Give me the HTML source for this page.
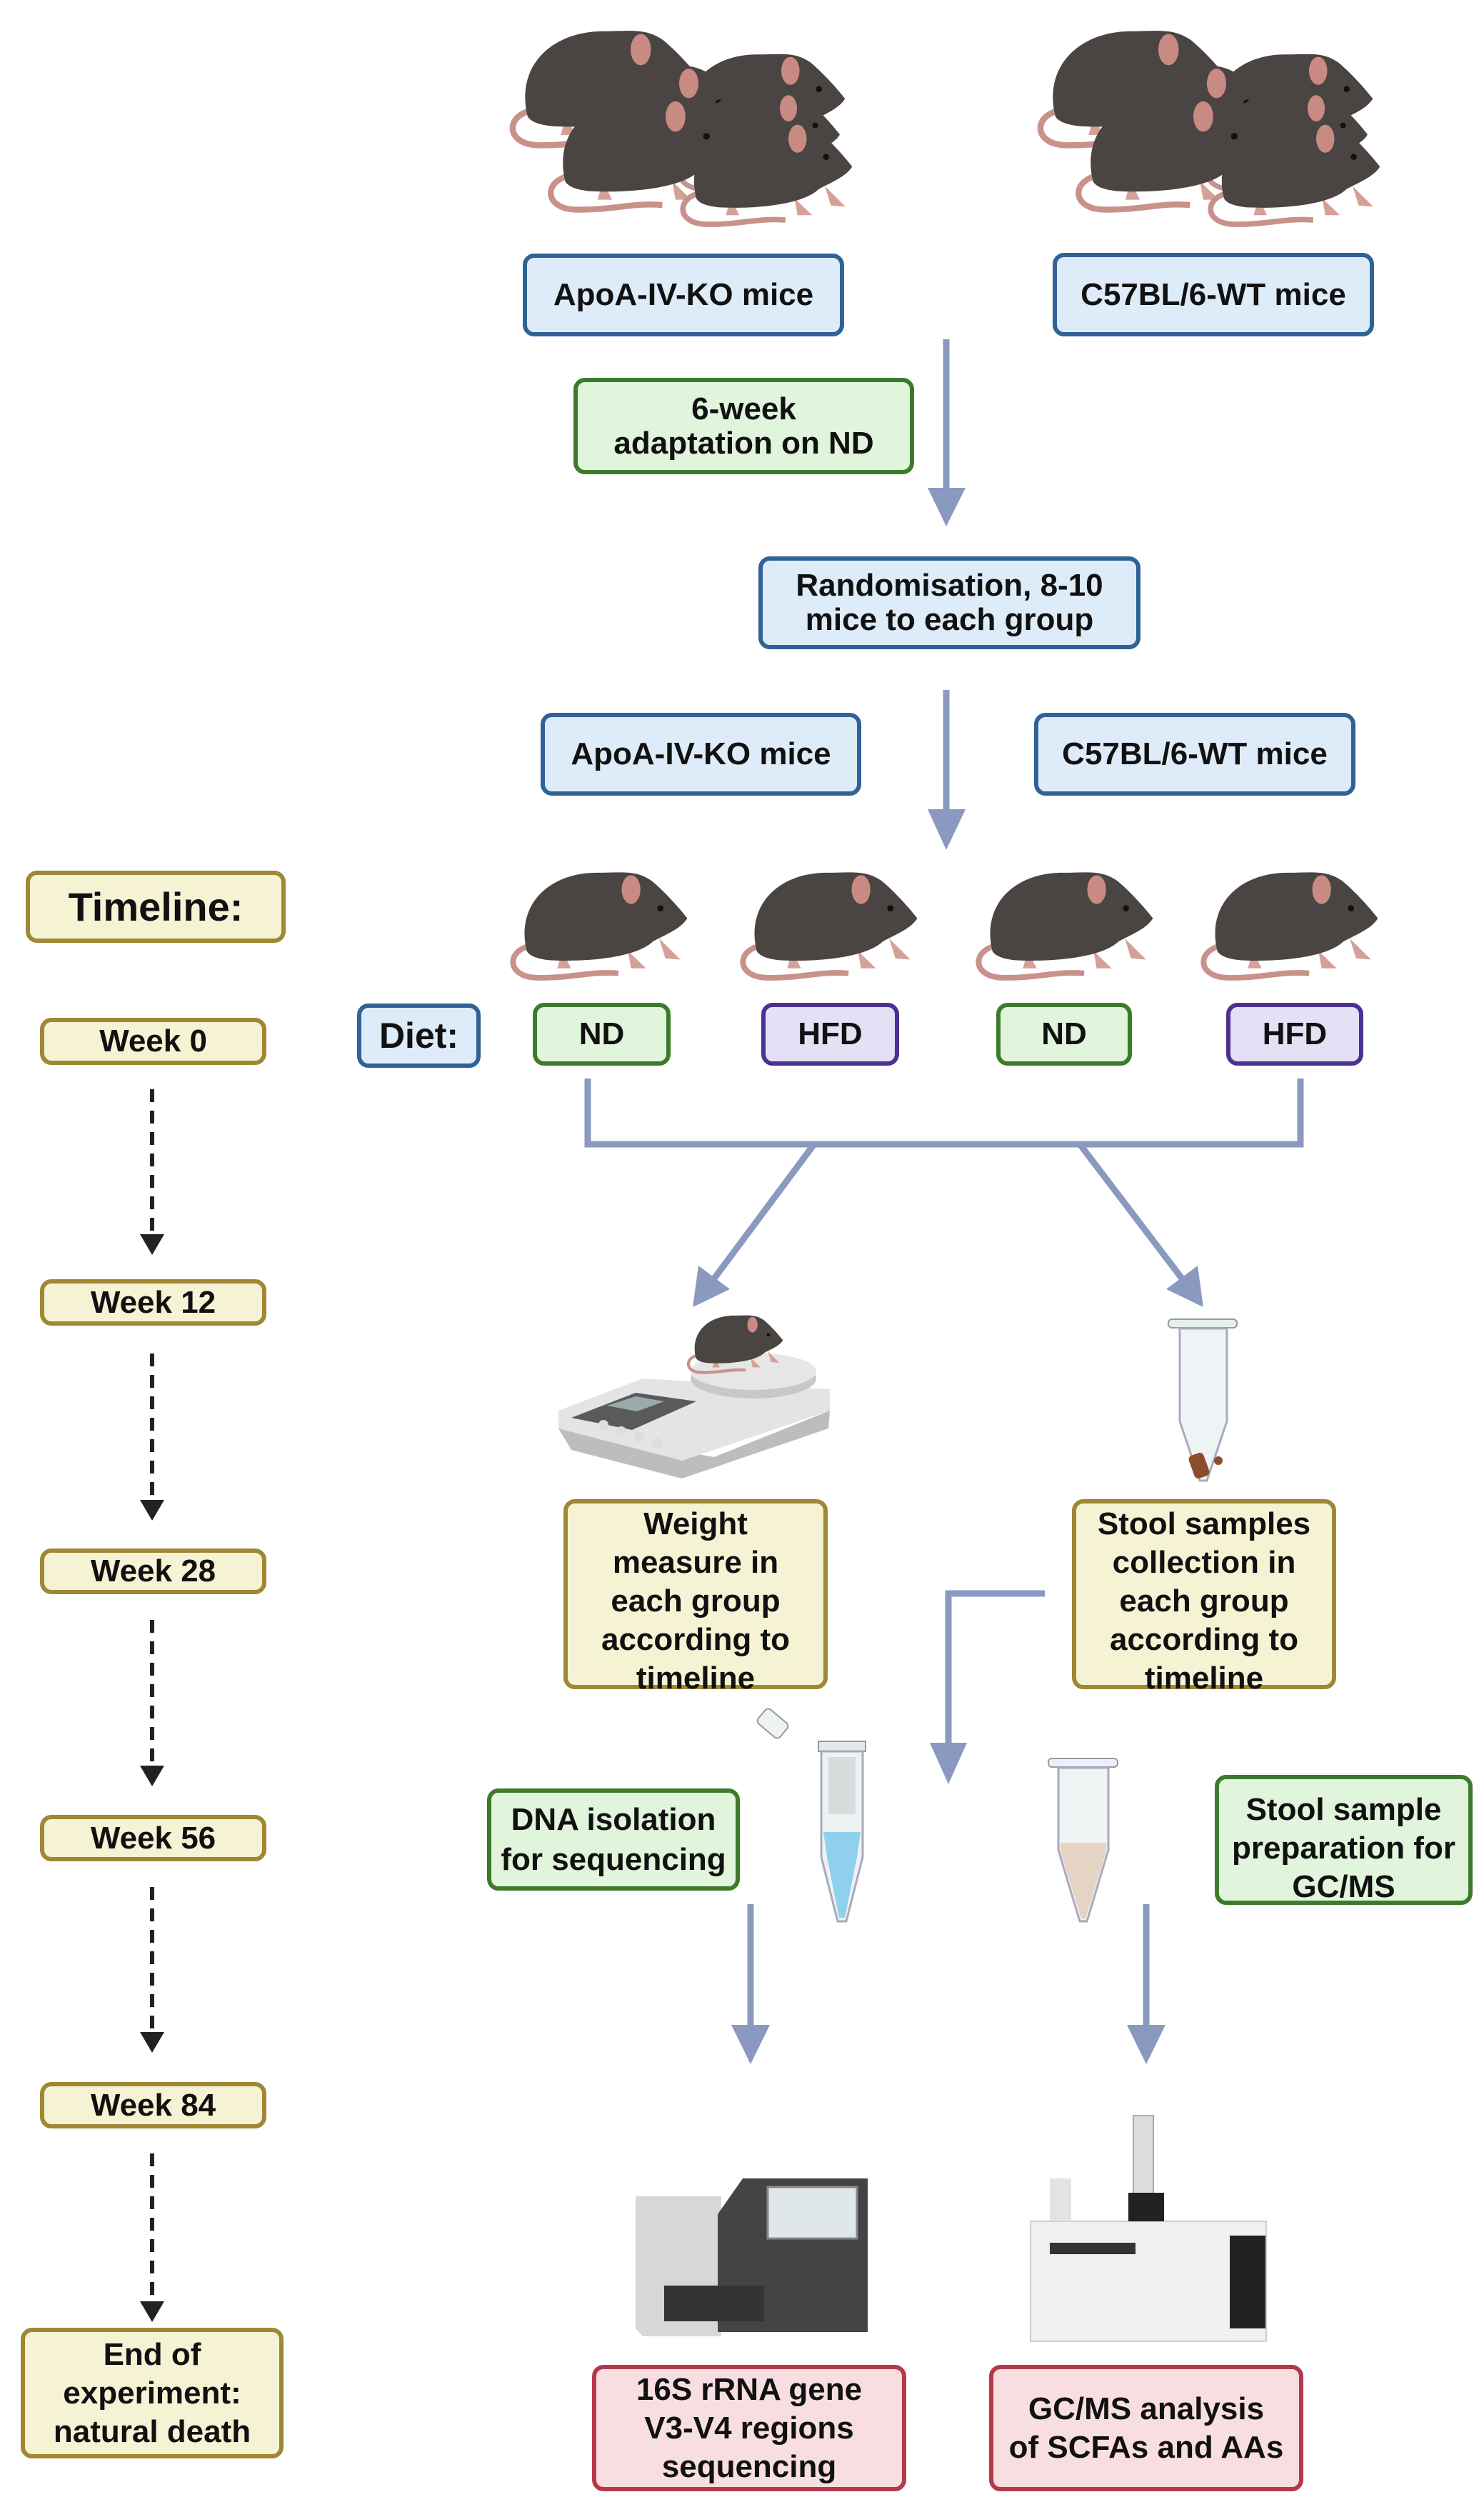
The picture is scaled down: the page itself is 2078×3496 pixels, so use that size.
<!DOCTYPE html>
<html><head><meta charset="utf-8">
<style>
html,body{margin:0;padding:0;background:#fff;}
body{width:2078px;height:3496px;position:relative;overflow:hidden;font-family:"Liberation Sans Narrow","Liberation Sans",sans-serif;}
.b{position:absolute;box-sizing:border-box;border:6px solid;border-radius:16px;display:flex;align-items:center;justify-content:center;text-align:center;font-weight:bold;color:#111;font-size:44px;line-height:48px;}
.bl{background:#deebf8;border-color:#2f6395;}
.gr{background:#e1f4dc;border-color:#3d7b2b;}
.pu{background:#e4e0f6;border-color:#4b3190;}
.ye{background:#f6f3d5;border-color:#9f8833;}
.re{background:#f8dee1;border-color:#b3394b;}
.top{align-items:flex-start;}
svg{position:absolute;left:0;top:0;}
</style></head><body>
<svg width="2078" height="3496" viewBox="0 0 2078 3496">
<defs>
<symbol id="m" viewBox="0 0 300 200">
<path d="M60 140 C5 140 0 192 55 193 C110 194 140 182 185 186" stroke="#c8928a" stroke-width="9" fill="none"/>
<path d="M95 150 l-8 28 l22 0 z M200 150 l5 28 l24 0 z M250 130 l10 32 l24 2 z" fill="#d4a098"/>
<path d="M38 150 C20 75 75 25 150 25 C190 25 212 20 238 38 C262 58 285 85 295 98 C285 115 258 125 240 135 C212 162 130 168 75 165 C55 163 42 158 38 150 Z" fill="#4a4542"/>
<ellipse cx="205" cy="52" rx="15" ry="23" fill="#c98a84"/>
<circle cx="252" cy="82" r="5" fill="#111"/>
</symbol>
</defs>
<!-- top mice groups -->
<g id="grp">
<use href="#m" x="690" y="20" width="310" height="190"/>
<use href="#m" x="920" y="55" width="280" height="170"/>
<use href="#m" x="770" y="70" width="290" height="180"/>
<use href="#m" x="925" y="110" width="270" height="160"/>
<use href="#m" x="745" y="115" width="300" height="185"/>
<use href="#m" x="925" y="150" width="290" height="170"/>
</g>
<use href="#grp" x="739" y="0"/>
<!-- row of 4 mice -->
<use href="#m" x="668" y="1200" width="335" height="175"/>
<use href="#m" x="990" y="1200" width="335" height="175"/>
<use href="#m" x="1320" y="1200" width="335" height="175"/>
<use href="#m" x="1635" y="1200" width="335" height="175"/>
<g fill="#8a99c0" stroke="#8a99c0">
<line x1="1325" y1="475" x2="1325" y2="690" stroke-width="9"/>
<polygon points="1299,683 1352,683 1325,737" stroke="none"/>
<line x1="1325" y1="966" x2="1325" y2="1140" stroke-width="9"/>
<polygon points="1299,1133 1352,1133 1325,1190" stroke="none"/>
<polyline points="823,1510 823,1602 1821,1602 1821,1510" fill="none" stroke-width="9"/>
<line x1="1140" y1="1602" x2="1000" y2="1790" stroke-width="9"/>
<polygon points="970,1830 978,1772 1022,1805" stroke="none"/>
<line x1="1512" y1="1602" x2="1655" y2="1790" stroke-width="9"/>
<polygon points="1685,1830 1633,1805 1677,1772" stroke="none"/>
<polyline points="1463,2231 1328,2231 1328,2450" fill="none" stroke-width="9"/>
<polygon points="1302,2440 1354,2440 1328,2498" stroke="none"/>
<line x1="1051" y1="2666" x2="1051" y2="2840" stroke-width="9"/>
<polygon points="1024,2835 1078,2835 1051,2890" stroke="none"/>
<line x1="1605" y1="2666" x2="1605" y2="2840" stroke-width="9"/>
<polygon points="1578,2835 1632,2835 1605,2890" stroke="none"/>
</g>
<!-- dashed timeline -->
<g stroke="#222" stroke-width="6" stroke-dasharray="18,12" fill="#222">
<line x1="213" y1="1525" x2="213" y2="1728"/>
<line x1="213" y1="1895" x2="213" y2="2100"/>
<line x1="213" y1="2268" x2="213" y2="2472"/>
<line x1="213" y1="2642" x2="213" y2="2845"/>
<line x1="213" y1="3015" x2="213" y2="3222"/>
</g>
<g fill="#222">
<polygon points="196,1728 230,1728 213,1757"/>
<polygon points="196,2100 230,2100 213,2129"/>
<polygon points="196,2472 230,2472 213,2501"/>
<polygon points="196,2845 230,2845 213,2874"/>
<polygon points="196,3222 230,3222 213,3251"/>
</g>
<!-- scale -->
<g>
<path d="M782 2000 L800 2030 L955 2070 L1160 2000 L1162 1975 L1000 2040 Z" fill="#bdbdbd"/>
<path d="M782 1975 L900 1930 L1162 1945 L1162 1975 L955 2045 L782 2000 Z" fill="#e4e4e4"/>
<path d="M800 1985 L890 1950 L975 1962 L885 2002 Z" fill="#5a5a5a"/>
<path d="M850 1968 L890 1955 L930 1962 L892 1976Z" fill="#9aa"/>
<g fill="#ddd"><circle cx="845" cy="1995" r="7"/><circle cx="870" cy="2004" r="7"/><circle cx="895" cy="2012" r="7"/><circle cx="920" cy="2020" r="7"/></g>
<ellipse cx="1055" cy="1930" rx="88" ry="28" fill="#c8c8c8"/>
<ellipse cx="1055" cy="1920" rx="88" ry="26" fill="#e6e6e6"/>
<use href="#m" x="945" y="1830" width="165" height="95"/>
</g>
<!-- stool tube -->
<g>
<rect x="1636" y="1847" width="96" height="12" rx="5" fill="#e8eef0" stroke="#999" stroke-width="2"/>
<path d="M1652 1860 L1718 1860 L1718 1990 L1690 2073 L1680 2073 L1652 1990 Z" fill="#eef3f5" stroke="#aab" stroke-width="3"/>
<rect x="1668" y="2035" width="22" height="34" rx="6" fill="#8a4f2a" transform="rotate(-20 1679 2052)"/>
<circle cx="1706" cy="2045" r="6" fill="#8a4f2a"/>
</g>
<!-- DNA tube -->
<g>
<rect x="1062" y="2400" width="40" height="26" rx="6" fill="#eef2f2" stroke="#999" stroke-width="2" transform="rotate(40 1082 2413)"/>
<rect x="1146" y="2438" width="66" height="14" fill="#e6e9ea" stroke="#999" stroke-width="2"/>
<path d="M1150 2452 L1208 2452 L1208 2600 L1185 2690 L1173 2690 L1150 2600 Z" fill="#eef2f3" stroke="#aab" stroke-width="3"/>
<path d="M1153 2565 L1205 2565 L1200 2600 L1183 2685 L1175 2685 L1158 2600 Z" fill="#8fd0ef"/>
<rect x="1160" y="2460" width="38" height="80" fill="#d8dcdd"/>
</g>
<!-- beige tube -->
<g>
<rect x="1468" y="2462" width="97" height="12" rx="5" fill="#eef" stroke="#999" stroke-width="2"/>
<path d="M1482 2475 L1552 2475 L1552 2590 L1522 2690 L1512 2690 L1482 2590 Z" fill="#eef3f4" stroke="#aab" stroke-width="3"/>
<path d="M1485 2580 L1549 2580 L1549 2592 L1520 2686 L1514 2686 L1485 2592 Z" fill="#e5d3c4"/>
</g>
<!-- sequencer -->
<g>
<path d="M890 3075 L1010 3075 L1010 3271 L900 3271 L890 3260 Z" fill="#d7d7d7"/>
<path d="M1005 3100 L1040 3050 L1215 3050 L1215 3265 L1005 3265 Z" fill="#444"/>
<rect x="1075" y="3062" width="125" height="72" fill="#dfe7ea" stroke="#888" stroke-width="3"/>
<rect x="930" y="3200" width="140" height="50" fill="#333"/>
</g>
<!-- GCMS -->
<g>
<rect x="1587" y="2962" width="28" height="110" fill="#ddd" stroke="#aaa" stroke-width="2"/>
<rect x="1443" y="3110" width="330" height="168" fill="#eef0f1" stroke="#ccc" stroke-width="2"/>
<rect x="1470" y="3050" width="30" height="60" fill="#e3e3e3"/>
<rect x="1470" y="3140" width="120" height="16" fill="#333"/>
<rect x="1722" y="3130" width="50" height="130" fill="#222"/>
<rect x="1580" y="3070" width="50" height="40" fill="#222"/>
</g>
</svg>

<div class="b bl" style="left:732px;top:355px;width:450px;height:116px;">ApoA-IV-KO mice</div>
<div class="b bl" style="left:1474px;top:354px;width:450px;height:117px;">C57BL/6-WT mice</div>
<div class="b gr" style="left:803px;top:529px;width:477px;height:135px;">6-week<br>adaptation on ND</div>
<div class="b bl" style="left:1062px;top:779px;width:535px;height:130px;">Randomisation, 8-10<br>mice to each group</div>
<div class="b bl" style="left:757px;top:998px;width:449px;height:116px;">ApoA-IV-KO mice</div>
<div class="b bl" style="left:1448px;top:998px;width:450px;height:116px;">C57BL/6-WT mice</div>
<div class="b ye" style="left:36px;top:1219px;width:364px;height:101px;font-size:56px;">Timeline:</div>
<div class="b ye" style="left:56px;top:1425px;width:317px;height:66px;">Week 0</div>
<div class="b bl" style="left:500px;top:1405px;width:173px;height:90px;font-size:50px;">Diet:</div>
<div class="b gr" style="left:746px;top:1404px;width:193px;height:88px;">ND</div>
<div class="b pu" style="left:1066px;top:1404px;width:193px;height:88px;">HFD</div>
<div class="b gr" style="left:1395px;top:1404px;width:190px;height:88px;">ND</div>
<div class="b pu" style="left:1717px;top:1404px;width:192px;height:88px;">HFD</div>
<div class="b ye" style="left:56px;top:1791px;width:317px;height:65px;">Week 12</div>
<div class="b ye" style="left:56px;top:2168px;width:317px;height:64px;">Week 28</div>
<div class="b ye" style="left:56px;top:2541px;width:317px;height:65px;">Week 56</div>
<div class="b ye" style="left:56px;top:2915px;width:317px;height:65px;">Week 84</div>
<div class="b ye" style="left:29px;top:3259px;width:368px;height:183px;line-height:54px;">End of<br>experiment:<br>natural death</div>
<div class="b ye top" style="left:789px;top:2099px;width:370px;height:266px;line-height:54px;padding-top:2px;">Weight<br>measure in<br>each group<br>according to<br>timeline</div>
<div class="b ye top" style="left:1501px;top:2099px;width:370px;height:266px;line-height:54px;padding-top:2px;">Stool samples<br>collection in<br>each group<br>according to<br>timeline</div>
<div class="b gr" style="left:682px;top:2504px;width:354px;height:143px;line-height:56px;">DNA isolation<br>for sequencing</div>
<div class="b gr top" style="left:1701px;top:2485px;width:361px;height:182px;line-height:54px;padding-top:16px;">Stool sample<br>preparation for<br>GC/MS</div>
<div class="b re top" style="left:829px;top:3311px;width:440px;height:177px;line-height:54px;padding-top:2px;">16S rRNA gene<br>V3-V4 regions<br>sequencing</div>
<div class="b re" style="left:1385px;top:3311px;width:440px;height:177px;line-height:54px;">GC/MS analysis<br>of SCFAs and AAs</div>
</body></html>
